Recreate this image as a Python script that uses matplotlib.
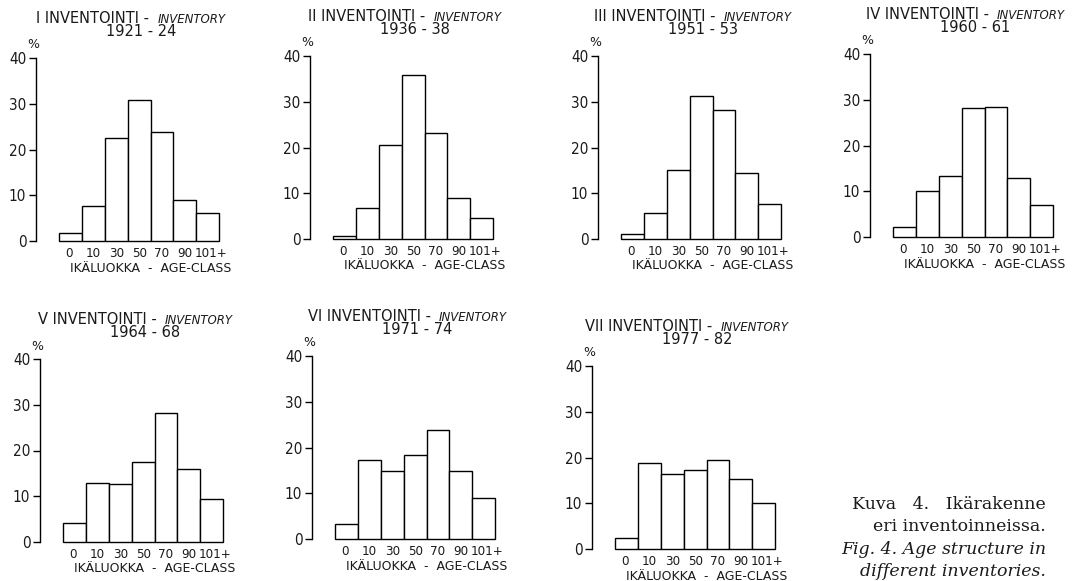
#!/usr/bin/env python3
# -*- coding: utf-8 -*-
"""
Age structure of the forests in the seven national inventories (Kuva 4 / Fig. 4).
Seven small histograms of age-class shares plus the figure caption.
"""

import numpy as np
import matplotlib
matplotlib.use('Agg')
import matplotlib.pyplot as plt
from matplotlib.transforms import ScaledTranslation

# --- data -------------------------------------------------------------------
age_classes = ['0', '10', '30', '50', '70', '90', '101+']
inventory_names = ['I', 'II', 'III', 'IV', 'V', 'VI', 'VII']
inventory_years = ['1921 - 24', '1936 - 38', '1951 - 53', '1960 - 61',
                   '1964 - 68', '1971 - 74', '1977 - 82']

# share of forest area (%) per age class
share_i = [1.7, 7.6, 22.6, 30.8, 23.9, 9.0, 6.2]
share_ii = [0.6, 6.8, 20.6, 35.8, 23.1, 8.9, 4.6]
share_iii = [1.1, 5.7, 15.0, 31.3, 28.2, 14.4, 7.6]
share_iv = [2.2, 10.1, 13.4, 28.1, 28.5, 13.0, 7.1]
share_v = [4.1, 12.9, 12.7, 17.5, 28.1, 15.9, 9.5]
share_vi = [3.3, 17.2, 14.8, 18.3, 23.9, 14.9, 9.0]
share_vii = [2.5, 18.7, 16.4, 17.2, 19.4, 15.3, 10.1]
shares = [share_i, share_ii, share_iii, share_iv, share_v, share_vi, share_vii]

caption_lines = ['Kuva   4.   Ikärakenne', 'eri inventoinneissa.',
                 'Fig. 4. Age structure in', 'different inventories.']

# --- layout (figure pixels) -------------------------------------------------
W, H = 1076, 581
# (x of the y axis, y of the zero line) for every panel
panel_anchor = [(36, 241), (310, 239), (598, 239), (870, 237),
                (40, 542), (312, 539), (592, 549)]
AX_W, AX_H = 183, 183
GAP = 1.03  # empty space between the y axis and the first bar, in bar widths

INK = '#1a1a1a'


def fx(px):
    return px / W


def fy(py):
    return 1 - py / H


fig = plt.figure(figsize=(W / 100, H / 100), dpi=100)
fig.patch.set_facecolor('white')

title_pairs = []

for name, years, vals, (ax_x, y0) in zip(inventory_names, inventory_years,
                                          shares, panel_anchor):
    ax = fig.add_axes([fx(ax_x), fy(y0), AX_W / W, AX_H / H])
    ax.patch.set_visible(False)
    x = np.arange(len(age_classes))
    ax.bar(x, vals, width=1.0, color='white', edgecolor='black',
           linewidth=1.0, clip_on=False)
    ax.set_xlim(-0.5 - GAP, len(age_classes) - 0.5)
    ax.set_ylim(0, 40)
    ax.set_yticks([0, 10, 20, 30, 40])
    for side in ('top', 'right', 'bottom'):
        ax.spines[side].set_visible(False)
    ax.spines['left'].set_linewidth(1.0)
    ax.tick_params(axis='y', direction='out', length=5, width=1.0, pad=2,
                   labelsize=11, labelcolor=INK)
    ax.set_xticks(x)
    ax.set_xticklabels(age_classes)
    ax.tick_params(axis='x', length=0, pad=4, labelsize=9.5, labelcolor=INK)
    for lab in ax.get_xticklabels() + ax.get_yticklabels():
        lab.set_fontstretch('condensed')
    # spread the outer age labels a little, as on the original
    xt = ax.get_xticklabels()
    xt[0].set_transform(xt[0].get_transform()
                        + ScaledTranslation(-2 / 100, 0, fig.dpi_scale_trans))
    xt[-1].set_transform(xt[-1].get_transform()
                         + ScaledTranslation(3 / 100, 0, fig.dpi_scale_trans))

    y40 = y0 - AX_H
    # "%" above the axis
    fig.text(fx(ax_x - 3), fy(y40 - 13), '%', ha='center', va='center',
             fontsize=9, color=INK)
    # title: regular Finnish part + small italic English part
    t1 = fig.text(0, fy(y40 - 35), f'{name} INVENTOINTI -', ha='left',
                  va='baseline', fontsize=10.5, color=INK)
    t2 = fig.text(0, fy(y40 - 35), 'INVENTORY', ha='left', va='baseline',
                  fontsize=8.5, style='italic', color=INK)
    title_pairs.append((t1, t2, ax_x + 95))
    fig.text(fx(ax_x + 105), fy(y40 - 22), years, ha='center', va='baseline',
             fontsize=10.5, color=INK)
    # x label
    fig.text(fx(ax_x + 115), fy(y0 + 27), 'IKÄLUOKKA  -  AGE-CLASS',
             ha='center', va='center', fontsize=9, color=INK)

# centre the two-part titles
renderer = fig.canvas.get_renderer()
for t1, t2, cx in title_pairs:
    w1 = t1.get_window_extent(renderer).width
    w2 = t2.get_window_extent(renderer).width
    space = 8
    left = cx - (w1 + space + w2) / 2
    t1.set_x(fx(left))
    t2.set_x(fx(left + w1 + space))

# caption
caption_style = ['normal', 'normal', 'italic', 'italic']
caption_base = [509, 531, 554, 576]
for txt, st, by in zip(caption_lines, caption_style, caption_base):
    fig.text(fx(1046), fy(by), txt, ha='right', va='baseline', fontsize=12.5,
             style=st, family='DejaVu Serif', color=INK)

fig.savefig('out.png', dpi=100)
plt.close(fig)
